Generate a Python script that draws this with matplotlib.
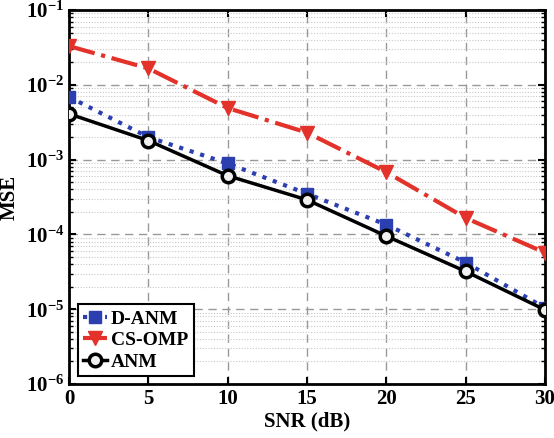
import matplotlib
matplotlib.use("Agg")
import matplotlib.pyplot as plt
from matplotlib.ticker import LogLocator, NullFormatter, MultipleLocator

plt.rcParams['font.family'] = 'Liberation Serif'
plt.rcParams['font.weight'] = 'bold'
plt.rcParams['mathtext.fontset'] = 'custom'
plt.rcParams['mathtext.rm'] = 'Liberation Serif:bold'
plt.rcParams['mathtext.it'] = 'Liberation Serif:bold'
plt.rcParams['mathtext.bf'] = 'Liberation Serif:bold'

snr = [0, 5, 10, 15, 20, 25, 30]
mse_danm = [6.9e-3, 2.0e-3, 8.9e-4, 3.5e-4, 1.35e-4, 4.2e-5, 1.04e-5]
mse_csomp = [3.3e-2, 1.66e-2, 4.9e-3, 2.3e-3, 6.8e-4, 1.66e-4, 5.7e-5]
mse_anm = [4.1e-3, 1.8e-3, 6.1e-4, 2.9e-4, 9.5e-5, 3.2e-5, 9.8e-6]

fig = plt.figure(figsize=(5.54, 4.38), dpi=100)
ax = fig.add_axes([0.1245, 0.1233, 0.8593, 0.8537])

ax.semilogy(snr, mse_danm, ':', color='#2b3fb0', lw=3, marker='s', ms=8,
            mfc='#2b3fb0', mec='#2b3fb0', label='D-ANM', zorder=3)
ax.semilogy(snr, mse_csomp, '-.', color='#e2322a', lw=3, marker='v', ms=10,
            mfc='#e2322a', mec='#e2322a', label='CS-OMP', zorder=3)
ax.semilogy(snr, mse_anm, '-', color='black', lw=2.5, marker='o', ms=9,
            mfc='#f0f0f0', mec='black', mew=2.5, label='ANM', zorder=4)

ax.set_xlim(0, 30)
ax.set_ylim(1e-6, 1e-1)
ax.xaxis.set_major_locator(MultipleLocator(5))
ax.yaxis.set_major_locator(LogLocator(base=10, numticks=10))
ax.yaxis.set_minor_locator(LogLocator(base=10, subs=range(2, 10), numticks=20))
ax.yaxis.set_minor_formatter(NullFormatter())

ax.grid(True, which='major', linestyle=(0, (6, 4)), color='#999999', lw=1)
ax.grid(True, which='minor', axis='y', linestyle=(0, (1, 1.5)), color='#c8c8c8', lw=0.8)
ax.set_axisbelow(True)

ax.tick_params(which='both', direction='in', top=True, right=True, labelsize=15)
ax.tick_params(which='major', length=5, width=1.5)
ax.tick_params(which='minor', length=3, width=1)
for s in ax.spines.values():
    s.set_linewidth(2)

ax.set_xlabel('SNR (dB)', fontsize=15, fontweight='bold', labelpad=2)
ax.set_ylabel('MSE', fontsize=15, fontweight='bold', labelpad=4)

leg = ax.legend(loc='lower left', bbox_to_anchor=(0.01, 0.01), fontsize=14,
                fancybox=False, edgecolor='black', framealpha=1,
                handlelength=1.2, handletextpad=0.2, borderpad=0.3,
                labelspacing=0.2, borderaxespad=0.2)
leg.get_frame().set_linewidth(1.5)

fig.savefig('out.png', dpi=100)
